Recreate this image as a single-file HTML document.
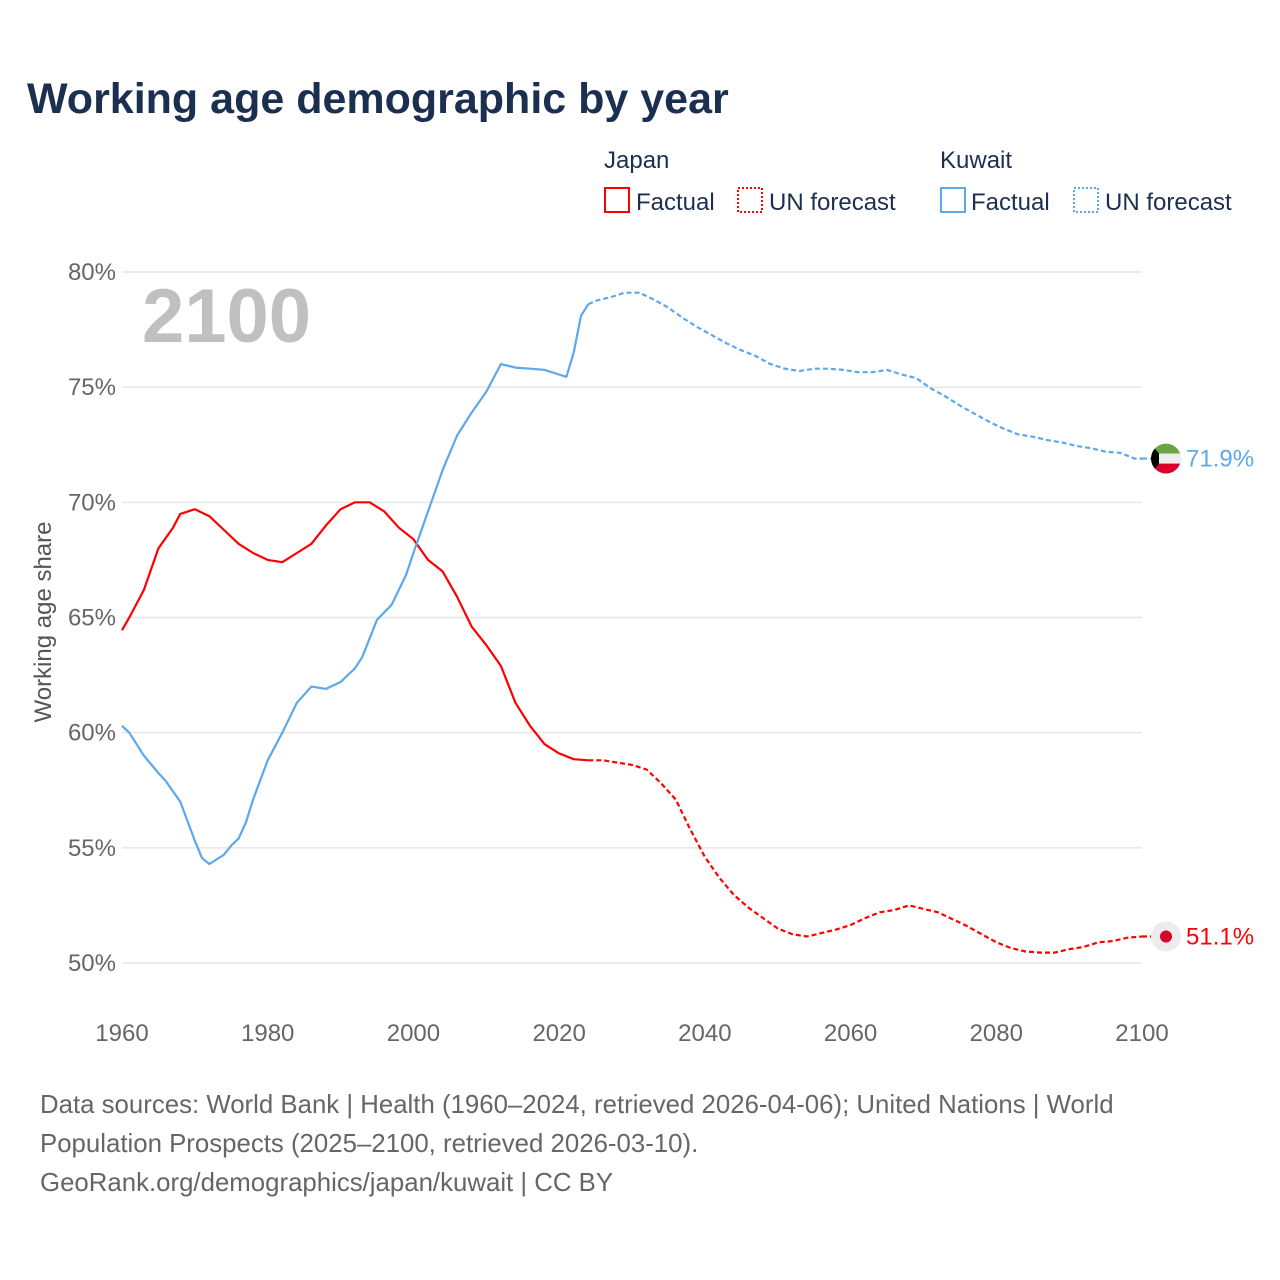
<!DOCTYPE html>
<html><head><meta charset="utf-8"><style>
body{margin:0;background:#fff;font-family:"Liberation Sans",sans-serif;}
#wrap{position:relative;width:1280px;height:1280px;overflow:hidden;}
</style></head><body>
<div id="wrap">
<svg id="chart" width="1280" height="1280" xmlns="http://www.w3.org/2000/svg">
<text x="27" y="113" font-size="43" font-weight="bold" fill="#1b3050">Working age demographic by year</text>
<g font-size="24" fill="#1b3050">
<text x="604" y="168">Japan</text>
<rect x="605" y="188" width="24" height="24" fill="none" stroke="#ff0000" stroke-width="2"/>
<text x="636" y="210">Factual</text>
<rect x="738" y="188" width="24" height="24" fill="none" stroke="#ff0000" stroke-width="2" stroke-dasharray="2,2"/>
<text x="769" y="210">UN forecast</text>
<text x="940" y="168">Kuwait</text>
<rect x="941" y="188" width="24" height="24" fill="none" stroke="#5ca8ec" stroke-width="2"/>
<text x="971" y="210">Factual</text>
<rect x="1074" y="188" width="24" height="24" fill="none" stroke="#5ca8ec" stroke-width="2" stroke-dasharray="2,2"/>
<text x="1105" y="210">UN forecast</text>
</g>
<text x="142" y="342" font-size="76" font-weight="bold" fill="#c0c0c0">2100</text>
<text transform="translate(51,622) rotate(-90)" text-anchor="middle" font-size="24" fill="#555">Working age share</text>
<g id="grid"></g><g id="lines"></g><g id="marks"></g>
<g font-size="25.8" fill="#666">
<text x="40" y="1113">Data sources: World Bank | Health (1960–2024, retrieved 2026-04-06); United Nations | World</text>
<text x="40" y="1152">Population Prospects (2025–2100, retrieved 2026-03-10).</text>
<text x="40" y="1191">GeoRank.org/demographics/japan/kuwait | CC BY</text>
</g>
</svg>
</div>
<script>
const yTicks=[50,55,60,65,70,75,80];
const xTicks=[1960,1980,2000,2020,2040,2060,2080,2100];
const japanYears=[1960,1961,1963,1965,1967,1968,1970,1972,1974,1976,1978,1980,1982,1984,1986,1988,1990,1992,1994,1996,1998,2000,2002,2004,2006,2008,2010,2012,2014,2016,2018,2020,2022,2024];
const japanValues=[64.45,65.0,66.2,68.0,68.9,69.5,69.7,69.4,68.8,68.2,67.8,67.5,67.4,67.8,68.2,69.0,69.7,70.0,70.0,69.6,68.9,68.4,67.5,67.0,65.9,64.6,63.8,62.9,61.3,60.3,59.5,59.1,58.85,58.8];
const japanFYears=[2024,2026,2028,2030,2032,2034,2036,2038,2040,2042,2044,2046,2048,2050,2052,2054,2056,2058,2060,2062,2064,2066,2068,2070,2072,2074,2076,2078,2080,2082,2084,2086,2088,2090,2092,2094,2096,2098,2100];
const japanFValues=[58.8,58.8,58.7,58.6,58.4,57.8,57.1,55.8,54.6,53.7,52.95,52.4,51.95,51.5,51.25,51.15,51.3,51.45,51.65,51.95,52.2,52.3,52.5,52.35,52.2,51.9,51.6,51.25,50.9,50.65,50.5,50.45,50.45,50.6,50.7,50.9,50.95,51.1,51.15];
const kuwaitYears=[1960,1961,1963,1965,1966,1968,1970,1971,1972,1974,1975,1976,1977,1978,1980,1982,1984,1986,1988,1990,1992,1993,1995,1997,1999,2000,2002,2004,2006,2008,2010,2012,2014,2016,2018,2020,2021,2022,2023,2024];
const kuwaitValues=[60.3,60.0,59.0,58.25,57.9,57.0,55.3,54.55,54.3,54.7,55.1,55.4,56.1,57.1,58.8,60.0,61.3,62.0,61.9,62.2,62.8,63.3,64.9,65.55,66.85,67.8,69.6,71.4,72.9,73.9,74.8,76.0,75.85,75.8,75.75,75.55,75.45,76.5,78.1,78.6];
const kuwaitFYears=[2024,2025,2027,2029,2031,2033,2035,2037,2039,2041,2043,2045,2047,2049,2051,2053,2055,2057,2059,2061,2063,2065,2067,2069,2071,2073,2075,2077,2079,2081,2083,2085,2087,2089,2091,2093,2095,2097,2099,2100];
const kuwaitFValues=[78.6,78.75,78.9,79.1,79.1,78.8,78.45,78.0,77.6,77.25,76.9,76.6,76.35,76.0,75.8,75.7,75.8,75.8,75.75,75.65,75.65,75.75,75.55,75.4,74.95,74.6,74.2,73.85,73.5,73.2,72.95,72.85,72.7,72.6,72.45,72.35,72.2,72.15,71.9,71.9];
const endLabels=["71.9%","51.1%"];

const NS="http://www.w3.org/2000/svg";
const X0=122,X1=1142,Y50=963,Y80=272;
const xs=y=>X0+(y-1960)*(X1-X0)/140;
const ys=v=>Y50-(v-50)*(Y50-Y80)/30;
function mk(tag,attrs,parent){const e=document.createElementNS(NS,tag);for(const k in attrs)e.setAttribute(k,attrs[k]);parent.appendChild(e);return e;}
const grid=document.getElementById('grid');
yTicks.forEach(t=>{
 const l=mk('line',{x1:X0,x2:X1,y1:ys(t),y2:ys(t),stroke:'#e6e6e6','stroke-width':1.5},grid);
 
 
 const tx=mk('text',{x:116,y:ys(t)+8,'text-anchor':'end','font-size':24,fill:'#666'},grid);
 tx.textContent=t+'%';
 
 
});
xTicks.forEach(t=>{
 const tx=mk('text',{x:xs(t),y:1041,'text-anchor':'middle','font-size':24,fill:'#666'},grid);
 tx.textContent=t;
 
 
});
const lines=document.getElementById('lines');
function path(yrs,vals,color,dash,name){
 const d=yrs.map((y,i)=>(i?'L':'M')+xs(y).toFixed(1)+','+ys(vals[i]).toFixed(1)).join(' ');
 const p=mk('path',{d:d,fill:'none',stroke:color,'stroke-width':2.2,'stroke-linejoin':'round'},lines);
 if(dash)p.setAttribute('stroke-dasharray','5,3');
 
 
}
path(japanFYears,japanFValues,'#ff0000',true,'japan-forecast-line');
path(japanYears,japanValues,'#ff0000',false,'japan-factual-line');
path(kuwaitFYears,kuwaitFValues,'#5ca8ec',true,'kuwait-forecast-line');
path(kuwaitYears,kuwaitValues,'#5ca8ec',false,'kuwait-factual-line');
const marks=document.getElementById('marks');
const ky=ys(kuwaitFValues[kuwaitFValues.length-1]), jy=ys(japanFValues[japanFValues.length-1]);
const kx=1166;
mk('line',{x1:X1,x2:kx-14,y1:ky,y2:ky,stroke:'#5ca8ec','stroke-width':2.2,'stroke-dasharray':'5,3'},marks);
mk('line',{x1:X1,x2:kx-14,y1:jy,y2:jy,stroke:'#ff0000','stroke-width':2.2,'stroke-dasharray':'5,3'},marks);
const fg=mk('g',{},marks);


mk('clipPath',{id:'fc'},fg).appendChild(document.createElementNS(NS,'circle'));
const cc=fg.querySelector('clipPath circle');cc.setAttribute('cx',kx);cc.setAttribute('cy',ky);cc.setAttribute('r',15);
const fgi=mk('g',{'clip-path':'url(#fc)'},fg);
mk('rect',{x:kx-15,y:ky-15,width:30,height:10,fill:'#6ba543'},fgi);
mk('rect',{x:kx-15,y:ky-5,width:30,height:10,fill:'#eeeeee'},fgi);
mk('rect',{x:kx-15,y:ky+5,width:30,height:10,fill:'#d8002a'},fgi);
mk('polygon',{points:`${kx-15},${ky-15} ${kx-7},${ky-5} ${kx-7},${ky+5} ${kx-15},${ky+15}`,fill:'#000'},fgi);
const jm=mk('g',{},marks);


mk('circle',{cx:kx,cy:jy,r:15,fill:'#ececec'},jm);
mk('circle',{cx:kx,cy:jy,r:6,fill:'#d8002a'},jm);
const kl=mk('text',{x:1186,y:ky+8,'font-size':24,fill:'#5ca8ec'},marks);
kl.textContent=endLabels[0];


const jl=mk('text',{x:1186,y:jy+8,'font-size':24,fill:'#ff0000'},marks);
jl.textContent=endLabels[1];


</script>
</body></html>
